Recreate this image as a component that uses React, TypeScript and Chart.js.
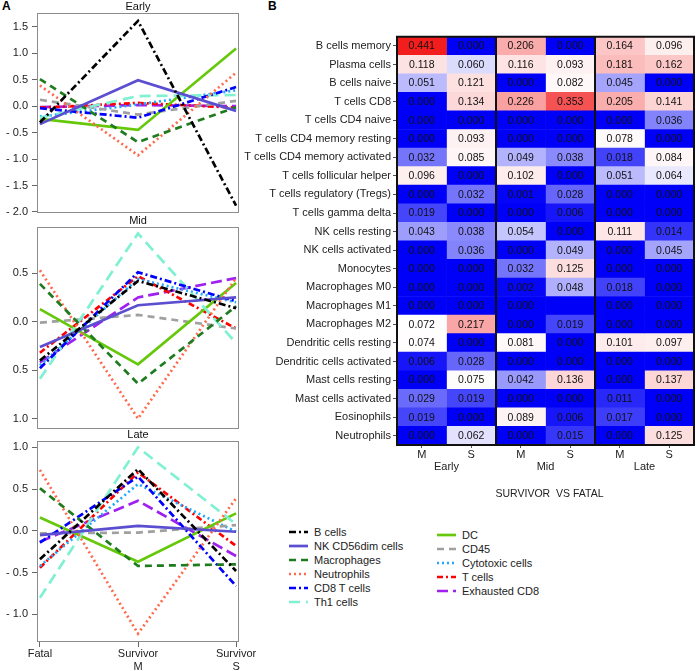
import React, { useEffect, useRef } from "react";
import { Chart, registerables } from "chart.js";
Chart.register(...registerables);

const FONT = "'Liberation Sans', Arial, Helvetica, sans-serif";
Chart.defaults.font.family = FONT;
Chart.defaults.font.size = 11;
Chart.defaults.color = "#222";

// ---------------- Line panels (A) ----------------
const X_POSITIONS = [0, 1, 2];
const X_LABELS = [["Fatal"], ["Survivor", "M"], ["Survivor", "S"]];

const SERIES_NAMES = [
  "B cells", "NK CD56dim cells", "Macrophages", "Neutrophils", "CD8 T cells", "Th1 cells",
  "DC", "CD45", "Cytotoxic cells", "T cells", "Exhausted CD8",
];

// values per series: [Fatal, Survivor M, Survivor S]
const EARLY_VALUES = [
  [-0.31, 1.61, -1.88],
  [-0.34, 0.49, -0.09],
  [0.51, -0.68, -0.02],
  [0.39, -0.93, 0.63],
  [-0.04, -0.22, 0.36],
  [-0.22, 0.19, 0.21],
  [-0.24, -0.45, 1.09],
  [0.12, -0.16, 0.10],
  [-0.2, 0.03, 0.30],
  [-0.03, 0.06, -0.03],
  [-0.02, 0.02, 0.0],
];
const MID_VALUES = [
  [-0.40, 0.42, 0.14],
  [-0.26, 0.17, 0.25],
  [0.39, -0.64, 0.16],
  [0.53, -1.0, 0.45],
  [-0.48, 0.51, 0.21],
  [-0.59, 0.91, -0.22],
  [0.13, -0.44, 0.40],
  [-0.01, 0.07, -0.07],
  [-0.45, 0.44, 0.20],
  [-0.32, 0.47, -0.07],
  [-0.42, 0.25, 0.45],
];
const LATE_VALUES = [
  [-0.34, 0.74, -0.48],
  [-0.05, 0.06, -0.01],
  [0.51, -0.42, -0.40],
  [0.73, -1.23, 0.39],
  [-0.14, 0.65, -0.66],
  [-0.80, 1.0, 0.08],
  [0.16, -0.37, 0.21],
  [-0.03, -0.02, 0.07],
  [-0.42, 0.56, -0.01],
  [-0.44, 0.70, -0.18],
  [-0.13, 0.36, -0.30],
];

const EARLY_TICKS = [1.5, 1.0, 0.5, 0.0, -0.5, -1.0, -1.5, -2.0];
const EARLY_TICK_LABELS = ["1.5", "1.0", "0.5", "0.0", "- 0.5", "- 1.0", "- 1.5", "- 2.0"];
const MID_TICKS = [0.5, 0.0, -0.5, -1.0];
const MID_TICK_LABELS = ["0.5", "0.0", "0.5", "1.0"];
const LATE_TICKS = [1.0, 0.5, 0.0, -0.5, -1.0];
const LATE_TICK_LABELS = ["1.0", "0.5", "0.0", "- 0.5", "- 1.0"];

const SERIES_STYLES = [
  { color: "#000000", dash: [7, 3, 2, 3] },
  { color: "#5b4ed0", dash: [] },
  { color: "#1e7b1e", dash: [7, 5] },
  { color: "#ff6a4d", dash: [2, 3] },
  { color: "#0000ff", dash: [7, 3, 2, 3] },
  { color: "#7ff0d2", dash: [11, 6] },
  { color: "#66c80a", dash: [] },
  { color: "#a0a0a0", dash: [7, 5] },
  { color: "#1ea8ff", dash: [2, 3] },
  { color: "#ff0000", dash: [6, 3, 2, 3] },
  { color: "#a020f0", dash: [11, 5] },
];

// ---------------- Heatmap (B) ----------------
const HEAT_ROWS = [
  "B cells memory", "Plasma cells", "B cells naive", "T cells CD8", "T cells CD4 naive",
  "T cells CD4 memory resting", "T cells CD4 memory activated", "T cells follicular helper",
  "T cells regulatory (Tregs)", "T cells gamma delta", "NK cells resting", "NK cells activated",
  "Monocytes", "Macrophages M0", "Macrophages M1", "Macrophages M2", "Dendritic cells resting",
  "Dendritic cells activated", "Mast cells resting", "Mast cells activated", "Eosinophils", "Neutrophils",
];
const HEAT_COLUMNS = ["M", "S", "M", "S", "M", "S"];
const HEAT_GROUPS = ["Early", "Mid", "Late"];
const HEAT_TITLE = "SURVIVOR  VS FATAL";

const EARLY_M = [0.441, 0.118, 0.051, 0.0, 0.0, 0.0, 0.032, 0.096, 0.0, 0.019, 0.043, 0.0, 0.0, 0.0, 0.0, 0.072, 0.074, 0.006, 0.0, 0.029, 0.019, 0.0];
const EARLY_S = [0.0, 0.06, 0.121, 0.134, 0.0, 0.093, 0.085, 0.0, 0.032, 0.0, 0.038, 0.036, 0.0, 0.0, 0.0, 0.217, 0.0, 0.028, 0.075, 0.019, 0.0, 0.062];
const MID_M = [0.206, 0.116, 0.0, 0.226, 0.0, 0.0, 0.049, 0.102, 0.001, 0.0, 0.054, 0.0, 0.032, 0.002, 0.0, 0.0, 0.081, 0.0, 0.042, 0.0, 0.089, 0.0];
const MID_S = [0.0, 0.093, 0.082, 0.353, 0.0, 0.0, 0.038, 0.0, 0.028, 0.006, 0.0, 0.049, 0.125, 0.048, null, 0.019, 0.0, 0.0, 0.136, 0.0, 0.006, 0.015];
const LATE_M = [0.164, 0.181, 0.045, 0.205, 0.0, 0.078, 0.018, 0.051, 0.0, 0.0, 0.111, 0.0, 0.0, 0.018, 0.0, 0.0, 0.101, 0.0, 0.0, 0.011, 0.017, 0.0];
const LATE_S = [0.096, 0.162, 0.0, 0.141, 0.036, 0.0, 0.084, 0.064, 0.0, 0.0, 0.014, 0.045, 0.0, 0.0, 0.0, 0.0, 0.097, 0.0, 0.137, 0.0, 0.0, 0.125];
const COLUMN_VALUES = [EARLY_M, EARLY_S, MID_M, MID_S, LATE_M, LATE_S];

const WHITE_AT = 0.07;
const RED_AT = 0.49;
function heatColor(v: number | null): string {
  if (v == null) return "rgb(0,0,248)";
  if (v <= WHITE_AT) {
    const t = v / WHITE_AT;
    return `rgb(${Math.round(255 * t)},${Math.round(255 * t)},${Math.round(248 + 7 * t)})`;
  }
  const t = Math.min(1, (v - WHITE_AT) / (RED_AT - WHITE_AT));
  return `rgb(${Math.round(255 - 15 * t)},${Math.round(255 * (1 - t))},${Math.round(255 * (1 - t))})`;
}

// ---------------- plugins ----------------
function makeBoxPlugin(title: string) {
  return {
    id: "panelBox",
    afterDatasetsDraw(chart: any) {
      const { ctx, chartArea: a } = chart;
      ctx.save();
      ctx.strokeStyle = "#8c8c8c";
      ctx.lineWidth = 1;
      ctx.strokeRect(Math.round(a.left) + 0.5, Math.round(a.top) + 0.5, Math.round(a.right - a.left) - 1, Math.round(a.bottom - a.top) - 1);
      ctx.restore();
    },
    afterDraw(chart: any) {
      const { ctx, chartArea: a } = chart;
      ctx.save();
      ctx.font = `11px ${FONT}`;
      ctx.fillStyle = "#111";
      ctx.textAlign = "center";
      ctx.textBaseline = "middle";
      ctx.fillText(title, (a.left + a.right) / 2, a.top - 6);
      ctx.restore();
    },
  };
}

const heatPlugin = {
  id: "heatText",
  afterDatasetsDraw(chart: any) {
    const { ctx, chartArea: a, scales } = chart;
    ctx.save();
    ctx.font = `10.5px ${FONT}`;
    ctx.fillStyle = "#111";
    ctx.textAlign = "center";
    ctx.textBaseline = "middle";
    chart.data.datasets.forEach((_ds: any, c: number) => {
      const meta = chart.getDatasetMeta(c);
      meta.data.forEach((el: any, r: number) => {
        const v = COLUMN_VALUES[c][r];
        if (v == null) return;
        const p = el.getProps(["x", "y", "base"], true);
        ctx.fillText(v.toFixed(3), (p.x + p.base) / 2, p.y + 0.5);
      });
    });
    ctx.strokeStyle = "#111";
    ctx.lineWidth = 2;
    ctx.beginPath();
    for (let g = 0; g <= HEAT_GROUPS.length; g++) {
      const x = scales.x.getPixelForValue(g * 2);
      ctx.moveTo(x, a.top);
      ctx.lineTo(x, a.bottom);
    }
    ctx.moveTo(a.left - 1, a.top);
    ctx.lineTo(a.right + 1, a.top);
    ctx.moveTo(a.left - 1, a.bottom);
    ctx.lineTo(a.right + 1, a.bottom);
    ctx.stroke();
    ctx.restore();
  },
  afterDraw(chart: any) {
    const { ctx, chartArea: a, scales } = chart;
    ctx.save();
    ctx.font = `11px ${FONT}`;
    ctx.fillStyle = "#222";
    ctx.textAlign = "center";
    ctx.textBaseline = "middle";
    HEAT_GROUPS.forEach((g, i) => {
      ctx.fillText(g, scales.x.getPixelForValue(i * 2 + 1), a.bottom + 22);
    });
    ctx.font = `10.5px ${FONT}`;
    ctx.fillText(HEAT_TITLE, (a.left + a.right) / 2 + 4, a.bottom + 49);
    ctx.restore();
  },
};

function zeroPad(s: any) {
  s.paddingTop = 0;
  s.paddingBottom = 0;
  s.paddingLeft = 0;
  s.paddingRight = 0;
}

function lineConfig(values: number[][], yMin: number, yMax: number, ticks: number[], tickLabels: string[], title: string, showX: boolean, pad: any) {
  return {
    type: "line",
    data: {
      datasets: SERIES_NAMES.map((name, i) => ({
        label: name,
        data: X_POSITIONS.map((x, j) => ({ x, y: values[i][j] })),
        borderColor: SERIES_STYLES[i].color,
        borderDash: SERIES_STYLES[i].dash,
        borderWidth: 2.7,
        borderCapStyle: "butt",
        pointRadius: 0,
        tension: 0,
        fill: false,
      })),
    },
    options: {
      animation: false,
      responsive: false,
      maintainAspectRatio: false,
      devicePixelRatio: 1,
      layout: { padding: pad },
      plugins: { legend: { display: false }, tooltip: { enabled: false } },
      scales: {
        x: {
          type: "linear",
          min: -0.03,
          max: 2.03,
          display: showX,
          afterBuildTicks: (s: any) => { s.ticks = X_POSITIONS.map((v) => ({ value: v })); },
          ticks: { autoSkip: false, maxRotation: 0, padding: 0, color: "#222", font: { size: 11 }, callback: (_v: any, i: number) => X_LABELS[i] },
          grid: { drawOnChartArea: false, tickLength: 5, color: "#666" },
          border: { display: false },
          afterFit: (s: any) => { if (showX) s.height = 29; else s.height = 0; zeroPad(s); },
        },
        y: {
          type: "linear",
          min: yMin,
          max: yMax,
          afterBuildTicks: (s: any) => { s.ticks = ticks.map((v) => ({ value: v })); },
          ticks: { autoSkip: false, padding: 4, color: "#222", font: { size: 11 }, callback: (_v: any, i: number) => tickLabels[i] },
          grid: { drawOnChartArea: false, tickLength: 5, color: "#666" },
          border: { display: false },
          afterFit: (s: any) => { s.width = 37; zeroPad(s); },
        },
      },
    },
    plugins: [makeBoxPlugin(title)],
  };
}

function heatConfig() {
  return {
    type: "bar",
    data: {
      labels: HEAT_ROWS,
      datasets: COLUMN_VALUES.map((col, c) => ({
        label: HEAT_GROUPS[Math.floor(c / 2)] + " " + HEAT_COLUMNS[c],
        data: col.map(() => [c, c + 1]),
        backgroundColor: col.map(heatColor),
        borderWidth: 0,
        categoryPercentage: 1,
        barPercentage: 1,
        grouped: false,
      })),
    },
    options: {
      indexAxis: "y",
      animation: false,
      responsive: false,
      maintainAspectRatio: false,
      devicePixelRatio: 1,
      layout: { padding: { top: 11.7, right: 2, bottom: 0, left: 0 } },
      plugins: { legend: { display: false }, tooltip: { enabled: false } },
      scales: {
        x: {
          type: "linear",
          min: 0,
          max: 6,
          afterBuildTicks: (s: any) => { s.ticks = HEAT_COLUMNS.map((_c, i) => ({ value: i + 0.5 })); },
          ticks: { autoSkip: false, maxRotation: 0, padding: 0, color: "#222", font: { size: 11 }, callback: (_v: any, i: number) => HEAT_COLUMNS[i] },
          grid: { drawOnChartArea: false, tickLength: 3, color: "#555" },
          border: { display: false },
          afterFit: (s: any) => { s.height = 55; zeroPad(s); },
        },
        y: {
          type: "category",
          ticks: { autoSkip: false, padding: 2, color: "#222", font: { size: 11 } },
          grid: { offset: false, drawOnChartArea: false, tickLength: 4, color: "#555" },
          border: { display: false },
          afterFit: (s: any) => { s.width = 157; zeroPad(s); },
        },
      },
    },
    plugins: [heatPlugin],
  };
}

function ChartCanvas({ left, top, width, height, make }: any) {
  const ref = useRef<HTMLCanvasElement | null>(null);
  useEffect(() => {
    const chart = new Chart(ref.current as HTMLCanvasElement, make() as any);
    return () => chart.destroy();
  }, []);
  return (
    <canvas
      ref={ref}
      width={width}
      height={height}
      style={{ position: "absolute", left, top, width, height }}
    />
  );
}

function LegendItem({ i, x, y }: { i: number; x: number; y: number }) {
  const st = SERIES_STYLES[i];
  return (
    <div style={{ position: "absolute", left: x, top: y - 7, height: 14, whiteSpace: "nowrap" }}>
      <svg width={19} height={14} style={{ position: "absolute", left: 0, top: 0 }}>
        <line x1={0} y1={7} x2={19} y2={7} stroke={st.color} strokeWidth={2.7} strokeDasharray={st.dash.length ? st.dash.join(" ") : undefined} />
      </svg>
      <span style={{ position: "absolute", left: 25, top: 0, lineHeight: "14px", fontSize: 11, fontFamily: FONT, color: "#222" }}>
        {SERIES_NAMES[i]}
      </span>
    </div>
  );
}

export default function App() {
  return (
    <div style={{ position: "absolute", left: 0, top: 0, width: 696, height: 671, background: "#fff", overflow: "hidden" }}>
      <div style={{ position: "absolute", left: 2, top: -1, fontFamily: FONT, fontWeight: "bold", fontSize: 12 }}>A</div>
      <div style={{ position: "absolute", left: 268, top: -1, fontFamily: FONT, fontWeight: "bold", fontSize: 12 }}>B</div>
      <ChartCanvas left={240} top={25} width={456} height={475} make={heatConfig} />
      <ChartCanvas left={0} top={0} width={262} height={222}
        make={() => lineConfig(EARLY_VALUES, -2.02, 1.76, EARLY_TICKS, EARLY_TICK_LABELS, "Early", false, { top: 13, right: 23, bottom: 9, left: 0 })} />
      <ChartCanvas left={0} top={214} width={262} height={220}
        make={() => lineConfig(MID_VALUES, -1.10, 0.98, MID_TICKS, MID_TICK_LABELS, "Mid", false, { top: 12.7, right: 23, bottom: 5.7, left: 0 })} />
      <ChartCanvas left={0} top={428} width={262} height={243}
        make={() => lineConfig(LATE_VALUES, -1.33, 1.08, LATE_TICKS, LATE_TICK_LABELS, "Late", true, { top: 12.7, right: 23, bottom: 0, left: 0 })} />
      {SERIES_NAMES.slice(0, 6).map((_n, k) => (
        <LegendItem key={k} i={k} x={289} y={532.3 + k * 13.9} />
      ))}
      {SERIES_NAMES.slice(6).map((_n, k) => (
        <LegendItem key={k + 6} i={k + 6} x={437} y={534.7 + k * 14} />
      ))}
    </div>
  );
}
